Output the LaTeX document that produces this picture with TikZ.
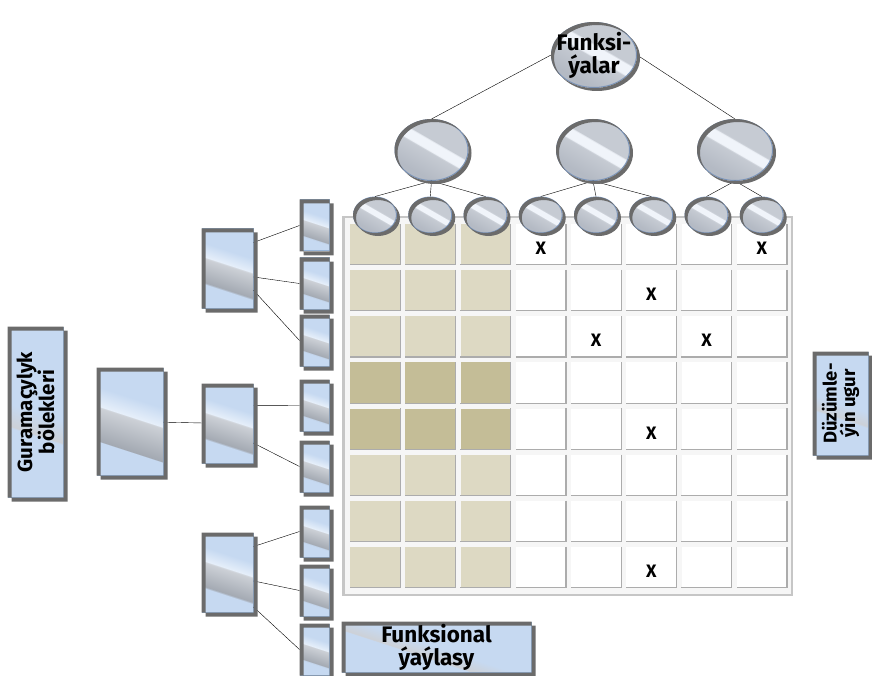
\documentclass[tikz,border=0pt]{standalone}
\usepackage{fontspec}
\setmainfont{Fira Sans}
\usetikzlibrary{shapes.geometric}

\definecolor{boxblue}{HTML}{C6D9F1}
\definecolor{boxedge}{HTML}{95B3D7}
\definecolor{boxlight}{HTML}{E6EFFA}
\definecolor{bandtop}{HTML}{CDD1D7}
\definecolor{bandbot}{HTML}{A3A9B2}
\definecolor{ballgray}{HTML}{C6CBD3}
\definecolor{balldark}{HTML}{B4BAC4}
\definecolor{balledge}{HTML}{7A95BC}
\definecolor{ballstripe}{HTML}{F0F4FA}
\definecolor{tanlight}{HTML}{DDD9C3}
\definecolor{tandark}{HTML}{C4BD97}
\definecolor{shadowgray}{HTML}{6B6B6B}

\pgfdeclareverticalshading{boxgloss}{100bp}{color(0bp)=(boxblue); color(35bp)=(boxblue);
  color(35.5bp)=(bandbot); color(52bp)=(bandtop); color(52.5bp)=(boxlight); color(62bp)=(boxblue); color(100bp)=(boxblue)}
\pgfdeclareverticalshading{labelgloss}{100bp}{color(0bp)=(boxblue); color(42bp)=(boxblue);
  color(42.5bp)=(bandtop); color(50bp)=(boxblue); color(100bp)=(boxblue)}
\pgfdeclareverticalshading{ballgloss}{100bp}{color(0bp)=(balldark); color(30bp)=(balldark);
  color(48bp)=(ballgray); color(49bp)=(ballstripe); color(56bp)=(ballstripe); color(57bp)=(ballgray); color(100bp)=(ballgray)}

\tikzset{
  box/.style={draw=boxedge, line width=1pt, shading=boxgloss, shading angle=-18, inner sep=0pt},
  leaf/.style={box, minimum width=29, minimum height=51},
  unit/.style={box, minimum width=51, minimum height=79},
  labelbox/.style={box, shading=labelgloss},
  ball/.style={ellipse, draw=balledge, line width=1pt, shading=ballgloss, shading angle=-30, inner sep=0pt},
  twig/.style={ball, minimum width=43, minimum height=36},
  branch/.style={ball, minimum width=73, minimum height=61},
  cell/.style={minimum width=50, minimum height=40.5, inner sep=0pt},
  shadowbox/.style={fill=shadowgray, draw=none, even odd rule},
  bigtext/.style={font=\fontsize{22.5}{23}\selectfont\bfseries, align=center, inner sep=0pt},
  sidetext/.style={font=\fontsize{20.5}{22}\selectfont\bfseries, align=center, inner sep=0pt},
  smalltext/.style={font=\fontsize{18.5}{18.5}\selectfont\bfseries, align=center, inner sep=0pt},
  xmark/.style={font=\fontsize{18}{18}\selectfont\bfseries, inner sep=0pt}
}

\begin{document}
\begin{tikzpicture}[x=1pt,y=1pt]
    \useasboundingbox (0,0) rectangle (872,-676);

    % Matrix
    \draw[draw=gray!45, fill=gray!7, line width=2.5pt] (343.5,-217) rectangle (792,-595);
    \foreach \r in {1,...,8}
        \foreach \c in {1,...,8}
        {
            \def\cellcol{white}
            \ifnum\c<4 \def\cellcol{tanlight}\fi
            \ifnum\c<4 \ifnum\r>3 \ifnum\r<6 \def\cellcol{tandark}\fi\fi\fi
            \node[cell, fill=\cellcol] (c\r-\c) at ({375+(\c-1)*55.25},{-244.25-(\r-1)*46.15}) {};
            \draw[gray!65, line width=1.2pt] (c\r-\c.north east) -- (c\r-\c.south east) -- (c\r-\c.south west);
        }
    \foreach \r/\c in {1/4,1/8,2/6,3/5,3/7,5/6,8/6}
        \node[xmark] (x\r-\c) at ([yshift=-4pt]c\r-\c) {X};

    % Funktionen
    \node[ball, minimum width=85, minimum height=65] (fkt) at (594,-55) {};
    \node[branch] (fa) at (431.5,-150) {};
    \node[branch] (fb) at (593,-150) {};
    \node[branch, minimum width=75] (fc) at (735,-150) {};
    \foreach \c in {1,...,8}
        \node[twig] (s\c) at ({375+(\c-1)*55.25},-215) {};
    \draw (fkt.west) -- (fa.north);
    \draw (fkt.east) -- (fc.north);
    \foreach \c in {1,2,3}
        \draw (fa.south) -- (s\c.north);
    \foreach \c in {4,5,6}
        \draw (fb.south) -- (s\c.north);
    \foreach \c in {7,8}
        \draw (fc.south) -- (s\c.north);

    % Organisation
    \node[box, minimum width=66, minimum height=107] (root) at (130,-421.5) {};
    \node[unit] (ua) at (227.5,-268.5) {};
    \node[unit] (ub) at (227.5,-423.5) {};
    \node[unit] (uc) at (227.5,-572.5) {};
    \foreach \i/\y in {1/225.5,2/283.5,3/340.5,4/405.5,5/466.5,6/531.5,7/590.5,8/649.5}
        \node[leaf] (l\i) at (314.5,-\y) {};
    \draw (root) -- (ub);
    \draw (ua.45) -- (l1.west);
    \draw (ua.-18) -- (l2.west);
    \draw (ua.-40) -- (l3.west);
    \draw (ub.35) -- (l4.west);
    \draw (ub.-37) -- (l5.west);
    \draw (uc.45) -- (l6.west);
    \draw (uc.-18) -- (l7.west);
    \draw (uc.-53) -- (l8.west);

    % Beschriftungen
    \node[labelbox, minimum width=55, minimum height=170] (grp) at (35.5,-412) {};
    \node[labelbox, minimum width=55, minimum height=103] (dir) at (840.5,-403.5) {};
    \node[labelbox, minimum width=189, minimum height=50] (area) at (436.5,-647) {};

    % Schatten (nur der Rand, der unter der Form hervorsteht)
    \foreach \n in {root,ua,ub,uc,l1,l2,l3,l4,l5,l6,l7,l8,grp,dir,area}
        \fill[shadowbox] ([shift={(4pt,-4pt)}]\n.south west) rectangle ([shift={(4pt,-4pt)}]\n.north east)
            (\n.south west) rectangle (\n.north east);
    \foreach \n/\a/\b in {fkt/43/33,fa/37/31,fb/37/31,fc/38/31,s1/22/18,s2/22/18,s3/22/18,s4/22/18,s5/22/18,s6/22/18,s7/22/18,s8/22/18}
        \fill[shadowbox] ([shift={(3pt,-3pt)}]\n.center) ellipse [x radius=\a, y radius=\b]
            (\n.center) ellipse [x radius=\a, y radius=\b];

    % Texte
    \node[bigtext] (fkttext) at (fkt) {Funksi-\\ýalar};
    \node[sidetext, rotate=90] (grptext) at (grp) {Guramaçylyk\\bölekleri};
    \node[smalltext, rotate=90] (dirtext) at (dir) {Düzümle-\\ýin ugur};
    \node[bigtext] (areatext) at (area) {Funksional\\ýaýlasy};
\end{tikzpicture}
\end{document}
